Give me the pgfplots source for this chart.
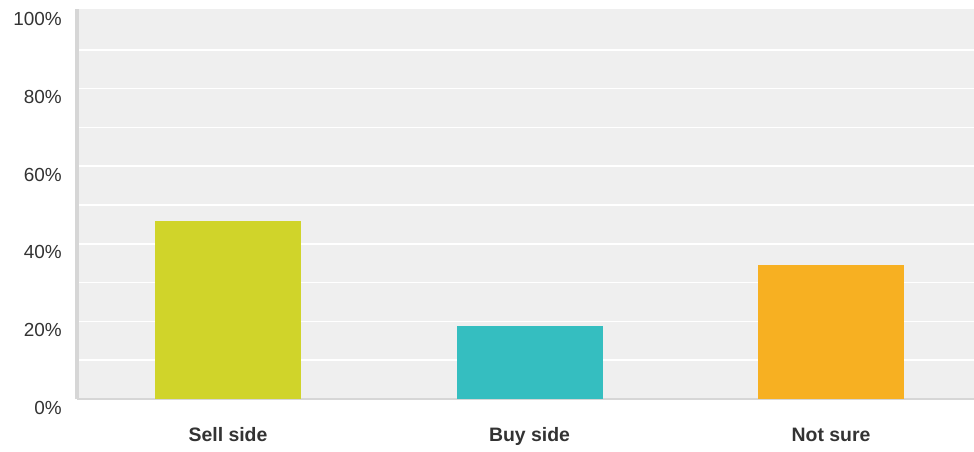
\documentclass[border=0pt]{standalone}
\usepackage{pgfplots}
\pgfplotsset{compat=1.18}
\usepackage{fontspec}
\setmainfont{Liberation Sans}
\definecolor{bgc}{HTML}{EFEFEF}
\definecolor{sellc}{HTML}{D0D42A}
\definecolor{buyc}{HTML}{35BEC0}
\definecolor{notc}{HTML}{F7B022}
\definecolor{txt}{HTML}{333333}
\definecolor{axc}{HTML}{D6D6D6}
\begin{document}
\begin{tikzpicture}
\useasboundingbox (0,0) rectangle (974bp,452bp);
\begin{axis}[
  at={(77bp,53bp)}, anchor=south west,
  scale only axis, width=897bp, height=390bp,
  xmin=-0.5008, xmax=2.474, ymin=0, ymax=100.5,
  axis background/.style={fill=bgc},
  axis x line=bottom, axis y line=left,
  x axis line style={-, draw=axc, line width=2bp},
  y axis line style={-, draw=axc, line width=3bp},
  xtick={0,1,2},
  xticklabels={Sell side,Buy side,Not sure},
  ytick={0,20,40,60,80},
  yticklabels={0\%,20\%,40\%,60\%,80\%},
  extra y ticks={100},
  extra y tick labels={100\%},
  extra y tick style={grid=none},
  minor ytick={10,30,50,70,90},
  ymajorgrids, yminorgrids,
  major grid style={white, line width=1.7bp},
  minor grid style={white, line width=1.7bp},
  major tick length=0pt, minor tick length=0pt,
  tick style={draw=none},
  yticklabel style={font=\fontsize{19}{22}\selectfont, text=txt, anchor=east, inner sep=0pt, xshift=-15bp, yshift=-8.5bp},
  xticklabel style={font=\fontsize{19.5}{22}\selectfont\bfseries, text=txt, anchor=base, inner sep=0pt, yshift=-42.5bp},
  clip=false,
]
\addplot[ybar, bar shift=0pt, bar width=0.484, fill=sellc, draw=none] coordinates {(0,45.9)};
\addplot[ybar, bar shift=0pt, bar width=0.484, fill=buyc, draw=none] coordinates {(1,18.8)};
\addplot[ybar, bar shift=0pt, bar width=0.484, fill=notc, draw=none] coordinates {(2,34.5)};
\end{axis}
\end{tikzpicture}
\end{document}
